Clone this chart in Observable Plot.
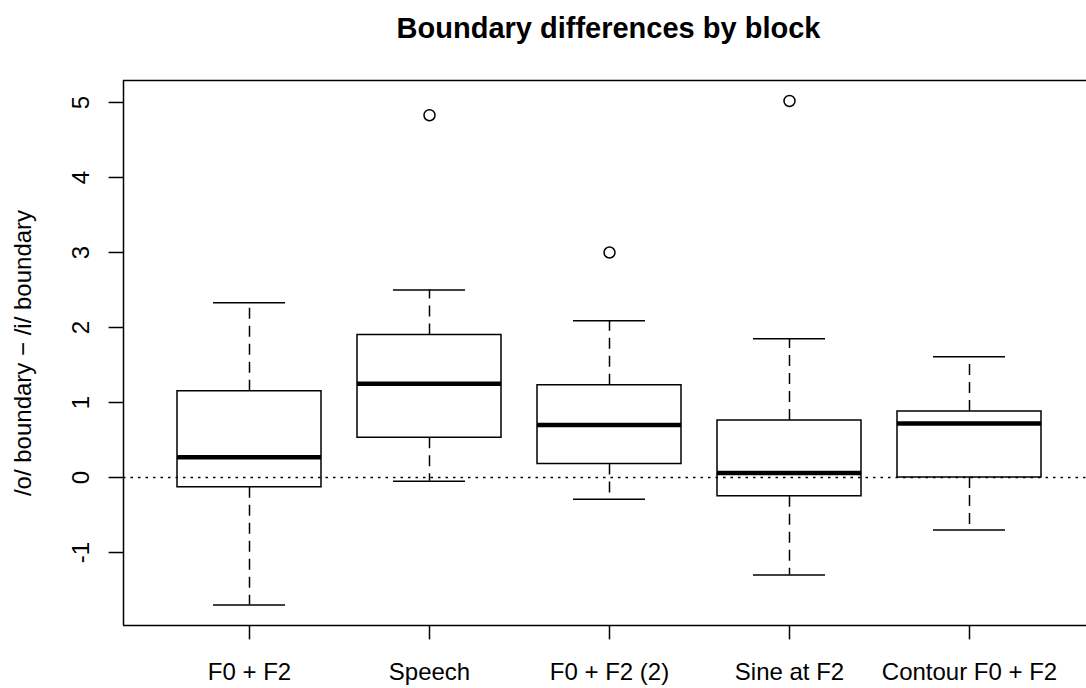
<!DOCTYPE html>
<html>
<head>
<meta charset="utf-8">
<script src="https://cdn.jsdelivr.net/npm/d3@7"></script>
<script src="https://cdn.jsdelivr.net/npm/@observablehq/plot@0.6"></script>
<style>
  html, body { margin: 0; padding: 0; background: #fff; overflow: hidden; }
  #wrap { position: relative; width: 1086px; height: 688px; }
  #title { position: absolute; left: 123px; width: 971px; top: 13.5px; text-align: center;
    font: bold 29px "Liberation Sans", Arial, sans-serif; line-height: 29px; color: #000; }
  #chart { position: absolute; left: 0; top: 0; }
</style>
</head>
<body>
<div id="wrap">
  <div id="chart"></div>
  <div id="title">Boundary differences by block</div>
</div>
<script>
// ---- data ----
const blocks = ["F0 + F2", "Speech", "F0 + F2 (2)", "Sine at F2", "Contour F0 + F2"];
const lowerWhisker = [-1.70, -0.05, -0.29, -1.30, -0.70];
const q1 = [-0.13, 0.53, 0.18, -0.25, 0.00];
const median = [0.27, 1.25, 0.70, 0.06, 0.72];
const q3 = [1.15, 1.90, 1.23, 0.76, 0.88];
const upperWhisker = [2.33, 2.50, 2.09, 1.85, 1.61];
const outlierBlock = ["Speech", "F0 + F2 (2)", "Sine at F2"];
const outlierValue = [4.83, 3.00, 5.02];
const yTicks = [-1, 0, 1, 2, 3, 4, 5];
const xDomain = [0.3, 5.65];
const yDomain = [-1.973, 5.293];
const yLabel = "/o/ boundary \u2212 /i/ boundary";

// ---- tables built from the arrays ----
const stats = blocks.map((b, i) => ({
  block: b, pos: i + 1,
  lo: lowerWhisker[i], q1: q1[i], med: median[i], q3: q3[i], hi: upperWhisker[i]
}));
const outliers = outlierBlock.map((b, i) => ({ pos: blocks.indexOf(b) + 1, value: outlierValue[i] }));

const font = '"Liberation Sans", Arial, sans-serif';
const lw = 1.5;

const chart = Plot.plot({
  width: 1086,
  height: 688,
  marginLeft: 123,
  marginRight: 0,
  marginTop: 80,
  marginBottom: 63,
  style: { fontFamily: font, fontSize: "24px", color: "#000", background: "#fff" },
  x: { type: "linear", domain: xDomain, axis: null, label: null },
  y: { type: "linear", domain: yDomain, axis: null, label: null },
  marks: [
    // whiskers (dashed)
    Plot.ruleX(stats, { x: "pos", y1: "q3", y2: "hi", stroke: "#000", strokeWidth: lw, strokeDasharray: "11,7" }),
    Plot.ruleX(stats, { x: "pos", y1: "q1", y2: "lo", stroke: "#000", strokeWidth: lw, strokeDasharray: "11,7" }),
    // staples
    Plot.ruleY(stats, { y: "hi", x1: d => d.pos - 0.2, x2: d => d.pos + 0.2, stroke: "#000", strokeWidth: lw }),
    Plot.ruleY(stats, { y: "lo", x1: d => d.pos - 0.2, x2: d => d.pos + 0.2, stroke: "#000", strokeWidth: lw }),
    // boxes
    Plot.rect(stats, { x1: d => d.pos - 0.4, x2: d => d.pos + 0.4, y1: "q1", y2: "q3", fill: "none", stroke: "#000", strokeWidth: lw }),
    // medians
    Plot.ruleY(stats, { y: "med", x1: d => d.pos - 0.4, x2: d => d.pos + 0.4, stroke: "#000", strokeWidth: 4.5 }),
    // outliers
    Plot.dot(outliers, { x: "pos", y: "value", r: 5.5, stroke: "#000", fill: "none", strokeWidth: lw }),
    // zero reference line (dotted)
    Plot.ruleY([0], { stroke: "#000", strokeWidth: lw, strokeDasharray: "2.5,5" }),
    // frame: left, top, bottom
    Plot.ruleX([xDomain[0]], { stroke: "#000", strokeWidth: lw }),
    Plot.ruleY(yDomain, { stroke: "#000", strokeWidth: lw }),
    // axes
    Plot.axisX({ ticks: stats.map(d => d.pos), tickFormat: p => blocks[p - 1], tickSize: 14.4, tickPadding: 22.6,
      strokeWidth: lw, fontSize: 24, fill: "#000", stroke: "#000", label: null }),
    Plot.axisY({ ticks: yTicks, tickSize: 14.4, tickFormat: () => "", strokeWidth: lw, stroke: "#000", label: null }),
    Plot.text(yTicks, { x: xDomain[0], y: d => d, text: d => String(d), rotate: -90, dx: -42.5,
      textAnchor: "middle", lineAnchor: "middle", fontSize: 24, fill: "#000" }),
    Plot.text([yLabel], { frameAnchor: "left", text: d => d, rotate: -90, dx: -100,
      textAnchor: "middle", lineAnchor: "middle", fontSize: 24, fill: "#000" })
  ]
});
document.getElementById("chart").appendChild(chart);
</script>
</body>
</html>
